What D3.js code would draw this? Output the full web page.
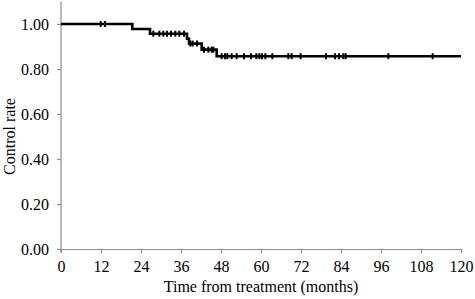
<!DOCTYPE html>
<html>
<head>
<meta charset="utf-8">
<script src="https://cdn.jsdelivr.net/npm/d3@7"></script>
<style>
  body { margin: 0; background: #fff; }
</style>
</head>
<body>
<div id="chart"></div>
<script>
// step curve: event times (months) and the control rate after each step
const stepTimes = [0, 21.4, 26.7, 37.8, 38.4, 42.2, 46.7];
const stepRates = [1.0, 0.978, 0.957, 0.935, 0.913, 0.886, 0.857];
const endTime = 120;

// censored observations (months)
const censorTimes = [11.9, 13.2,
    27.7, 29.5, 30.7, 31.8, 33.0, 34.3, 35.5, 36.9,
    38.8, 39.5, 40.8,
    42.9, 44.2, 45.2, 45.7,
    48.2, 49.2, 49.9, 51.2, 52.7, 54.9, 57.0, 58.6, 59.5, 60.3, 61.3, 63.4,
    68.2, 69.2, 71.9, 79.5, 82.2, 83.4, 84.7, 85.4, 98.2, 111.5];

const xTicks = [0, 12, 24, 36, 48, 60, 72, 84, 96, 108, 120];
const yTicks = [0, 0.2, 0.4, 0.6, 0.8, 1.0];

const width = 475, height = 299;
const margin = {top: 1.5, right: 14, bottom: 50, left: 61};
const serif = "'Liberation Serif'";

const svg = d3.select("#chart").append("svg")
    .attr("width", width)
    .attr("height", height)
    .attr("font-family", serif);

const x = d3.scaleLinear().domain([0, 120]).range([margin.left, width - margin.right]);
const y = d3.scaleLinear().domain([0, 1.1]).range([height - margin.bottom, margin.top]);

// rate at a given time from the step arrays
function rateAt(t) {
    let r = stepRates[0];
    stepTimes.forEach((s, i) => { if (t >= s) r = stepRates[i]; });
    return r;
}

// axes
const xAxis = svg.append("g")
    .attr("transform", `translate(0,${y(0)})`)
    .call(d3.axisBottom(x).tickValues(xTicks).tickSize(4).tickPadding(8).tickFormat(d3.format("d")));

const yAxis = svg.append("g")
    .attr("transform", `translate(${x(0)},0)`)
    .call(d3.axisLeft(y).tickValues(yTicks).tickSize(4).tickPadding(8).tickFormat(d3.format(".2f")));

[xAxis, yAxis].forEach(a => {
    a.attr("font-family", serif).attr("font-size", 16);
    a.select(".domain").attr("stroke", "#8c8c8c").attr("stroke-width", 1.2);
    a.selectAll(".tick line").attr("stroke", "#8c8c8c").attr("stroke-width", 1.2);
    a.selectAll(".tick text").attr("fill", "#000");
});
// y axis runs slightly below the x axis like the original
yAxis.select(".domain").attr("d", `M0,${y(1.1)}V${y(0) + 4}`);

// step line
const stepData = stepTimes.map((t, i) => [t, stepRates[i]]);
stepData.push([endTime, stepRates[stepRates.length - 1]]);

const line = d3.line()
    .x(d => x(d[0]))
    .y(d => y(d[1]))
    .curve(d3.curveStepAfter);

svg.append("path")
    .datum(stepData)
    .attr("fill", "none")
    .attr("stroke", "#000")
    .attr("stroke-width", 2.6)
    .attr("d", line);

// censor marks
svg.selectAll(".censor")
    .data(censorTimes)
    .enter()
    .append("line")
    .attr("class", "censor")
    .attr("x1", d => x(d))
    .attr("x2", d => x(d))
    .attr("y1", d => y(rateAt(d)) - 3)
    .attr("y2", d => y(rateAt(d)) + 3)
    .attr("stroke", "#000")
    .attr("stroke-width", 2);

// axis titles
svg.append("text")
    .attr("x", (x(0) + x(120)) / 2)
    .attr("y", 292)
    .attr("text-anchor", "middle")
    .attr("font-size", 16)
    .text("Time from treatment (months)");

svg.append("text")
    .attr("transform", `translate(15,${y(0.5)}) rotate(-90)`)
    .attr("text-anchor", "middle")
    .attr("font-size", 16)
    .text("Control rate");
</script>
</body>
</html>
